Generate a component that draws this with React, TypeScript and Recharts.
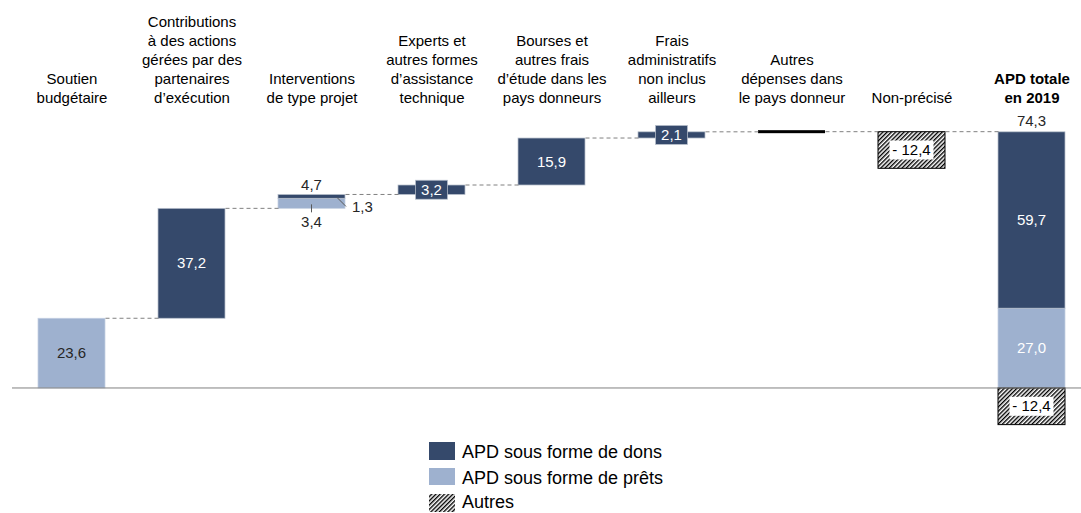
import React from 'react';
import { ComposedChart, Bar, XAxis, YAxis, ReferenceLine } from 'recharts';

// catégories (ordre du graphique en cascade)
const categories = [
  'Soutien budgétaire',
  'Contributions à des actions gérées par des partenaires d’exécution',
  'Interventions de type projet',
  'Experts et autres formes d’assistance technique',
  'Bourses et autres frais d’étude dans les pays donneurs',
  'Frais administratifs non inclus ailleurs',
  'Autres dépenses dans le pays donneur',
  'Non-précisé',
  'APD totale en 2019',
];

const categoryLines = [
  ['Soutien', 'budgétaire'],
  ['Contributions', 'à des actions', 'gérées par des', 'partenaires', 'd’exécution'],
  ['Interventions', 'de type projet'],
  ['Experts et', 'autres formes', 'd’assistance', 'technique'],
  ['Bourses et', 'autres frais', 'd’étude dans les', 'pays donneurs'],
  ['Frais', 'administratifs', 'non inclus', 'ailleurs'],
  ['Autres', 'dépenses dans', 'le pays donneur'],
  ['Non-précisé'],
  ['APD totale', 'en 2019'],
];

const pretsValues = [23.6, 0, 3.4, 0, 0, 0, 0, 0, 27.0];
const donsValues = [0, 37.2, 1.3, 3.2, 15.9, 2.1, 0.05, 0, 59.7];
const autresValues = [0, 0, 0, 0, 0, 0, 0, -12.4, -12.4];
const totalIndex = 8;

const DONS = '#35496B';
const PRETS = '#9EB1CF';
const GREY = '#808080';
const FONT = '"Liberation Sans", Arial, sans-serif';
const BAR_SIZE = 67;
const BAND = 120;

// lignes du tableau empilé : base invisible + segments
let gross = 0;
const levels: number[] = [];
const rows = categories.map((name, i) => {
  const isTotal = i === totalIndex;
  const pos = pretsValues[i] + donsValues[i];
  let base = 0;
  let autres = autresValues[i];
  if (!isTotal) {
    base = gross;
    if (autres < 0) {
      base = gross + autres;
      autres = -autres;
    }
    gross += pos;
  }
  levels.push(gross);
  return { idx: i, name, base, prets: pretsValues[i], dons: donsValues[i], autres };
});

const fmt = (v: number): string => (v < 0 ? `- ${fmt(-v)}` : v.toFixed(1).replace('.', ','));

const box = (r: any) => {
  const top = Math.min(r.y, r.y + r.height);
  const h = Math.abs(r.height);
  return { x: r.x, top, w: r.width, h, cx: r.x + r.width / 2, cy: top + h / 2 };
};

const txt = { fontFamily: FONT, fontSize: 15, textAnchor: 'middle' as const };

const PretsShape = (props: any) => {
  const { index } = props;
  const v = pretsValues[index];
  if (!v) return null;
  const b = box(props);
  return (
    <g>
      <rect x={b.x} y={b.top} width={b.w} height={b.h} fill={PRETS} stroke="#C5D0E2" strokeWidth={0.75} />
      {index === 2 ? (
        <>
          <line x1={b.cx} y1={b.top + b.h - 4} x2={b.cx} y2={b.top + b.h + 4} stroke="#595959" />
          <text {...txt} x={b.cx} y={b.top + b.h + 19} fill="#262626">{fmt(v)}</text>
        </>
      ) : (
        <text {...txt} x={b.cx} y={b.cy} dy={5} fill={index === 0 ? '#262626' : '#fff'}>{fmt(v)}</text>
      )}
    </g>
  );
};

const DonsShape = (props: any) => {
  const { index } = props;
  const v = donsValues[index];
  if (!v) return null;
  const b = box(props);
  const right = b.x + b.w;
  if (index === 6) {
    return <rect x={b.x} y={b.top - 1.5} width={b.w} height={3} fill="#000" />;
  }
  const boxed = index === 3 || index === 5;
  return (
    <g>
      <rect x={b.x} y={b.top} width={b.w} height={b.h} fill={DONS} stroke="#B8C0CC" strokeWidth={0.75} />
      {boxed && <rect x={b.cx - 16} y={b.cy - 9.5} width={32} height={19} fill={DONS} stroke="#B8C0CC" strokeWidth={0.75} />}
      {index === 2 ? (
        <>
          <line x1={right - 8} y1={b.top + 3} x2={right + 1} y2={b.top + 12} stroke="#595959" />
          <text {...txt} textAnchor="start" x={right + 7} y={b.top + 18} fill="#262626">{fmt(v)}</text>
          <text {...txt} x={b.cx} y={b.top - 4} fill="#262626">{fmt(pretsValues[index] + v)}</text>
        </>
      ) : (
        <text {...txt} x={b.cx} y={b.cy} dy={5} fill="#fff">{fmt(v)}</text>
      )}
      {index === totalIndex && (
        <text {...txt} x={b.cx} y={b.top - 6} fill="#262626">
          {fmt(pretsValues[index] + v + autresValues[index])}
        </text>
      )}
    </g>
  );
};

const AutresShape = (props: any) => {
  const { index } = props;
  const v = autresValues[index];
  if (!v) return null;
  const b = box(props);
  const id = `hatch-${index}`;
  return (
    <g>
      <defs>
        <pattern id={id} width={3} height={3} patternUnits="userSpaceOnUse" patternTransform="rotate(45)">
          <rect width={3} height={3} fill="#fff" />
          <line x1={0} y1={0} x2={0} y2={3} stroke="#000" strokeWidth={2.8} />
        </pattern>
      </defs>
      <rect x={b.x} y={b.top} width={b.w} height={b.h} fill={`url(#${id})`} stroke="#000" strokeWidth={1} />
      <rect x={b.cx - 22} y={b.cy - 9.5} width={44} height={19} fill="#fff" />
      <text {...txt} x={b.cx} y={b.cy} dy={5} fill="#000">{fmt(v)}</text>
    </g>
  );
};

const CategoryTick = (props: any) => {
  const { x, y, payload } = props;
  const lines = categoryLines[payload.value] || [];
  const bold = payload.value === totalIndex;
  return (
    <text x={x} textAnchor="middle" fontSize={15} fontFamily={FONT} fill="#000" fontWeight={bold ? 700 : 400}>
      {lines.map((l, k) => (
        <tspan key={k} x={x} y={y - 4 - (lines.length - 1 - k) * 19}>
          {l}
        </tspan>
      ))}
    </text>
  );
};

const half = BAR_SIZE / 2 / BAND;

export default function App() {
  return (
    <div style={{ position: 'absolute', left: 0, top: 0, width: 1081, height: 513, overflow: 'hidden', background: '#fff', fontFamily: FONT }}>
      <ComposedChart
        width={1100}
        height={513}
        data={rows}
        stackOffset="sign"
        margin={{ top: 7.3, right: 8, bottom: 80.7, left: 12 }}
      >
        <XAxis
          dataKey="idx"
          type="number"
          domain={[-0.5, 8.5]}
          ticks={categories.map((_, i) => i)}
          interval={0}
          orientation="top"
          height={100}
          axisLine={false}
          tickLine={false}
          tickSize={0}
          tickMargin={0}
          tick={<CategoryTick />}
        />
        <YAxis hide domain={[-15, 95]} allowDataOverflow />
        <ReferenceLine y={0} stroke={GREY} strokeWidth={1} />
        {levels.slice(0, totalIndex).map((lvl, i) => (
          <ReferenceLine
            key={`c-${i}`}
            segment={[
              { x: i + half, y: lvl },
              { x: i + 1 - half, y: lvl },
            ]}
            stroke={GREY}
            strokeDasharray="4 3"
          />
        ))}
        <Bar dataKey="base" stackId="w" fill="transparent" barSize={BAR_SIZE} isAnimationActive={false} />
        <Bar dataKey="prets" stackId="w" fill={PRETS} barSize={BAR_SIZE} shape={PretsShape} isAnimationActive={false} />
        <Bar dataKey="dons" stackId="w" fill={DONS} barSize={BAR_SIZE} shape={DonsShape} isAnimationActive={false} />
        <Bar dataKey="autres" stackId="w" fill="#000" barSize={BAR_SIZE} shape={AutresShape} isAnimationActive={false} />
      </ComposedChart>

      <svg width={1081} height={513} style={{ position: 'absolute', left: 0, top: 0, pointerEvents: 'none' }}>
        <defs>
          <pattern id="hatch-legend" width={3} height={3} patternUnits="userSpaceOnUse" patternTransform="rotate(45)">
            <rect width={3} height={3} fill="#fff" />
            <line x1={0} y1={0} x2={0} y2={3} stroke="#000" strokeWidth={2.8} />
          </pattern>
        </defs>
        <rect x={429} y={442} width={26} height={18} fill={DONS} />
        <text x={462} y={458} fontSize={18} fontFamily={FONT} fill="#000">APD sous forme de dons</text>
        <rect x={429} y={468} width={26} height={17} fill={PRETS} />
        <text x={462} y={484} fontSize={18} fontFamily={FONT} fill="#000">APD sous forme de prêts</text>
        <rect x={429} y={494} width={26} height={18} fill="url(#hatch-legend)" />
        <text x={462} y={508} fontSize={18} fontFamily={FONT} fill="#000">Autres</text>
      </svg>
    </div>
  );
}
